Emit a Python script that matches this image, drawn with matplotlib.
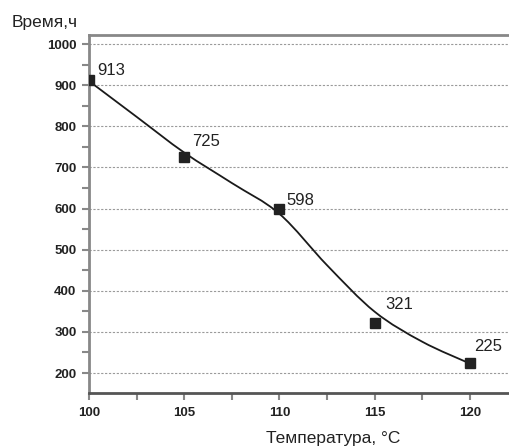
import numpy as np
import matplotlib
matplotlib.use("Agg")
import matplotlib.pyplot as plt
from matplotlib.ticker import MultipleLocator
from matplotlib.path import Path
from matplotlib.patches import PathPatch

plt.rcParams['font.family'] = ['Liberation Sans', 'DejaVu Sans']

temperature = [100, 105, 110, 115, 120]
hours = [913, 725, 598, 321, 225]
point_labels = ["913", "725", "598", "321", "225"]

# smoothed trend line values
trend_temperature = [100, 102.5, 105, 107.5, 110, 112.5, 115, 117.5, 120]
trend_hours = [910, 823, 736, 662, 587, 462, 349, 276, 223]

# label offsets in pixels (style)
label_offsets = [(8, 9), (8, 16), (7, 9), (11, 19), (4, 16)]

fig = plt.figure(figsize=(5.09, 4.48), dpi=100)
ax = fig.add_axes([89/509, 55/448, 1 - 89/509, (393-35)/448])

# smooth curve (Catmull-Rom -> cubic Bezier) through the trend values
tx = np.array(trend_temperature, float)
ty = np.array(trend_hours, float)
verts = [(tx[0], ty[0])]
codes = [Path.MOVETO]
n = len(tx)
for i in range(n - 1):
    p0 = np.array([tx[max(i-1, 0)], ty[max(i-1, 0)]])
    p1 = np.array([tx[i], ty[i]])
    p2 = np.array([tx[i+1], ty[i+1]])
    p3 = np.array([tx[min(i+2, n-1)], ty[min(i+2, n-1)]])
    c1 = p1 + (p2 - p0) / 6.0
    c2 = p2 - (p3 - p1) / 6.0
    verts += [tuple(c1), tuple(c2), tuple(p2)]
    codes += [Path.CURVE4] * 3
ax.add_patch(PathPatch(Path(verts, codes), facecolor="none", edgecolor="#1a1a1a", lw=1.3, zorder=3))

ax.plot(temperature, hours, ls="none", marker="s", ms=7.5, color="#222222", zorder=4)
for x, y, t, off in zip(temperature, hours, point_labels, label_offsets):
    ax.annotate(t, (x, y), xytext=off, textcoords="offset pixels",
                fontsize=12, color="#222222", va="center", ha="left")

ax.set_xlim(100, 122.05)
ax.set_ylim(151.4, 1022)
ax.set_xticks(temperature)
ax.set_xticklabels([str(v) for v in temperature])
ax.xaxis.set_minor_locator(MultipleLocator(2.5))
ax.set_yticks(range(200, 1001, 100))
ax.yaxis.set_minor_locator(MultipleLocator(50))
ax.grid(axis="y", which="major", color="#9a9a9a", ls=(0, (2, 1.5)), lw=0.8)

for s in ["left", "top", "bottom"]:
    ax.spines[s].set_color("#888888")
    ax.spines[s].set_linewidth(2)
ax.spines["bottom"].set_color("#555555")
ax.spines["right"].set_visible(False)

ax.tick_params(axis="both", which="both", color="#888888", width=1.5, length=5, direction="out")
ax.tick_params(axis="y", labelsize=9.5, labelcolor="#222222", pad=4)
ax.tick_params(axis="x", labelsize=9.5, labelcolor="#222222", pad=5)
for lab in ax.get_yticklabels() + ax.get_xticklabels():
    lab.set_fontweight("bold")

fig.text(12/509, 1 - 22/448, "Время,ч", fontsize=12.5, color="#222222", va="center", ha="left")
fig.text(333/509, 1 - 438/448, "Температура, °C", fontsize=12.5, color="#222222", va="center", ha="center")

fig.savefig("out.png", dpi=100)
